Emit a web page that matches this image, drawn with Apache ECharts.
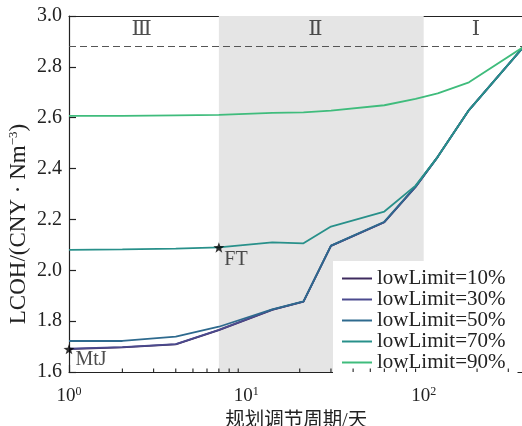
<!DOCTYPE html>
<html><head><meta charset="utf-8">
<script src="https://cdn.jsdelivr.net/npm/echarts@6/dist/echarts.min.js"></script>
<style>html,body{margin:0;padding:0;background:#fff}#c{width:522px;height:426px}</style>
</head><body><div id="c"></div>
<script>
// ---- data ----
const days = [1, 2, 4, 7, 14, 21, 30, 60, 90, 120, 180, 365];
const seriesNames = ['lowLimit=10%', 'lowLimit=30%', 'lowLimit=50%', 'lowLimit=70%', 'lowLimit=90%'];
const low10 = [1.690, 1.697, 1.709, 1.765, 1.844, 1.877, 2.096, 2.189, 2.328, 2.446, 2.630, 2.878];
const low30 = [1.692, 1.698, 1.710, 1.766, 1.845, 1.877, 2.096, 2.189, 2.328, 2.446, 2.630, 2.878];
const low50 = [1.722, 1.722, 1.739, 1.778, 1.846, 1.878, 2.097, 2.191, 2.330, 2.446, 2.630, 2.878];
const low70 = [2.080, 2.082, 2.085, 2.090, 2.110, 2.106, 2.172, 2.231, 2.333, 2.446, 2.630, 2.878];
const low90 = [2.607, 2.607, 2.609, 2.611, 2.619, 2.621, 2.628, 2.649, 2.674, 2.696, 2.739, 2.878];
const allValues = [low10, low30, low50, low70, low90];
const colors = ['#3e2b5e', '#4b4a8e', '#2e6a8e', '#28908a', '#3fbc7c'];
const yTicks = [1.6, 1.8, 2.0, 2.2, 2.4, 2.6, 2.8, 3.0];
const minorTicks = [2, 3, 4, 5, 6, 7, 8, 9, 20, 30, 40, 50, 60, 70, 80, 90, 200, 300];
const bandRange = [7, 100];
const refLine = 2.88;
const regionLabels = ['Ⅲ', 'Ⅱ', 'Ⅰ'];
const regionX = [2.57, 24.5, 197];
const regionY = 2.945;
const starNames = ['MtJ', 'FT'];
const starPoints = [[1, 1.69], [7, 2.09]];
const xName = '规划调节周期/天';

const serif = "'Liberation Serif','Times New Roman','Noto Sans CJK SC',serif";
const ink = '#222';
const starPath = 'path://M0,-10L2.35,-3.24L9.51,-3.09L3.8,1.24L5.88,8.09L0,4L-5.88,8.09L-3.8,1.24L-9.51,-3.09L-2.35,-3.24Z';

const chart = echarts.init(document.getElementById('c'));
const lineSeries = seriesNames.map((n, i) => ({
  name: n, type: 'line', symbol: 'none', z: 5 + i,
  data: days.map((d, k) => [d, allValues[i][k]]),
  lineStyle: { color: colors[i], width: 1.8 }, itemStyle: { color: colors[i] }
}));

const option = {
  animation: false,
  backgroundColor: '#fff',
  grid: { left: 69, right: -1.4, top: 16, bottom: 54, containLabel: false, outerBoundsMode: 'none' },
  xAxis: [{
    type: 'log', logBase: 10, min: 1, max: 365,
    name: xName, nameLocation: 'middle', nameGap: 36,
    nameTextStyle: { fontFamily: serif, fontSize: 19.5, color: ink },
    axisLine: { lineStyle: { color: ink, width: 1.2 } },
    axisTick: { inside: true, length: 7, lineStyle: { color: ink, width: 1.2 } },
    splitLine: { show: false },
    axisLabel: {
      margin: 14, showMaxLabel: false,
      formatter: v => {
        const e = Math.log10(v);
        if (Math.abs(e - Math.round(e)) > 1e-6) return '';
        return '{b|10}{s|' + Math.round(e) + '}';
      },
      rich: {
        b: { fontFamily: serif, fontSize: 19, color: ink },
        s: { fontFamily: serif, fontSize: 12, color: ink, padding: [0, 0, 9, 0] }
      }
    }
  }, {
    type: 'log', logBase: 10, min: 1, max: 365, position: 'top',
    axisLine: { lineStyle: { color: ink, width: 1.2 } },
    axisTick: { show: false }, axisLabel: { show: false }, splitLine: { show: false }
  }],
  yAxis: {
    type: 'value', min: yTicks[0], max: yTicks[yTicks.length - 1], interval: 0.2,
    axisLine: { show: true, lineStyle: { color: ink, width: 1.2 } },
    axisTick: { show: true, inside: true, length: 7, lineStyle: { color: ink, width: 1.2 } },
    splitLine: { show: false },
    axisLabel: { margin: 7, fontFamily: serif, fontSize: 20, color: ink, formatter: v => v.toFixed(1) }
  },
  legend: {
    data: seriesNames.map(n => ({ name: n, icon: 'rect' })), orient: 'vertical', left: 333, top: 261,
    backgroundColor: '#fff', padding: [7, 12, 2, 9],
    itemWidth: 30, itemHeight: 2, itemGap: 0,
    textStyle: { fontFamily: serif, fontSize: 21, color: ink, lineHeight: 18 }
  },
  graphic: [{
    type: 'text', x: 19, y: 224, rotation: Math.PI / 2,
    style: {
      text: 'LCOH/(CNY · Nm{s|−3})', align: 'center', verticalAlign: 'middle',
      fontFamily: serif, fontSize: 23, fill: ink,
      rich: { s: { fontFamily: serif, fontSize: 13, fill: ink, padding: [0, 0, 10, 0] } }
    }
  }],
  series: [
    {
      name: 'band', type: 'line', data: [], z: 1,
      markArea: { silent: true, itemStyle: { color: '#e5e5e5' },
        data: [[{ xAxis: bandRange[0] }, { xAxis: bandRange[1] }]] },
      markLine: { silent: true, symbol: 'none', label: { show: false },
        lineStyle: { color: '#555', type: [7, 4], width: 1.2 },
        data: [{ yAxis: refLine }] }
    },
    ...lineSeries,
    {
      name: 'minor', type: 'custom', clip: false, z: 20,
      data: minorTicks.map(v => [v, yTicks[0]]),
      renderItem: (params, api) => {
        const p = api.coord([api.value(0), api.value(1)]);
        return { type: 'line', shape: { x1: p[0], y1: p[1], x2: p[0], y2: p[1] - 3.5 },
          style: { stroke: ink, lineWidth: 1.1 } };
      }
    },
    {
      name: 'regions', type: 'scatter', symbolSize: 0, z: 12,
      data: regionLabels.map((t, i) => ({ value: [regionX[i], regionY], name: t })),
      label: { show: true, position: 'inside', formatter: p => p.name,
        fontFamily: "'DejaVu Serif','Liberation Serif',serif", fontSize: 21, color: ink }
    },
    {
      name: 'stars', type: 'scatter', symbol: starPath, symbolSize: 11, symbolKeepAspect: true, z: 25,
      itemStyle: { color: '#000' },
      data: starPoints.map((p, i) => ({ value: p, name: starNames[i],
        label: { show: true, position: i === 0 ? [12, 6] : [11, 8], formatter: starNames[i],
          fontFamily: serif, fontSize: 20, color: ink } }))
    }
  ]
};
chart.setOption(option);
</script></body></html>
